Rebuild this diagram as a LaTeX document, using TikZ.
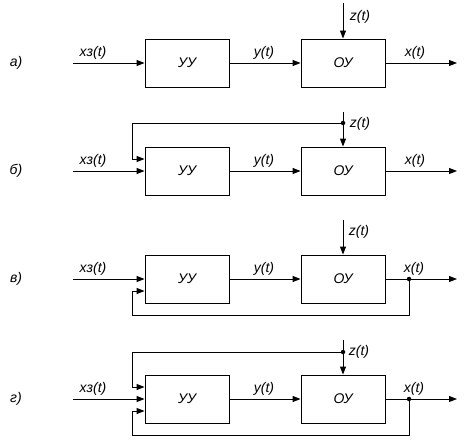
\documentclass[tikz,border=0pt]{standalone}
\usepackage{fontspec}
\setmainfont{Liberation Sans}
\usetikzlibrary{arrows.meta}
\begin{document}
\begin{tikzpicture}[x=1pt,y=-1pt, line width=0.9pt,
 blk/.style={draw, minimum width=84pt, minimum height=48pt, inner sep=0pt, font=\itshape\fontsize{14}{16}\selectfont},
 lbl/.style={inner sep=0pt, font=\itshape\fontsize{14}{16}\selectfont},
 arr/.style={-{Triangle[length=8pt,width=6pt]}},
 jdot/.style={fill, circle, inner sep=0pt, minimum size=4.5pt}]
\useasboundingbox (0,0) rectangle (468,444);
% ---- panel a
\node[blk] (uuA) at (187,63) {УУ};
\node[blk] (ouA) at (343,63) {ОУ};
\coordinate (inA) at (73,63);
\coordinate (outA) at (457,63);
\coordinate (zA) at (343,3);
\draw[arr] (inA) -- (uuA);
\draw[arr] (uuA) -- (ouA);
\draw[arr] (ouA) -- (outA);
\draw[arr] (zA) -- (ouA);
\node[lbl] (pA) at (16,63) {а)};
\node[lbl] (xzA) at (93,53) {xз(t)};
\node[lbl] (yA) at (264,53) {y(t)};
\node[lbl] (xA) at (415,53) {x(t)};
\node[lbl] (zlA) at (360,17) {z(t)};
% ---- panel b
\node[blk] (uuB) at (187,171) {УУ};
\node[blk] (ouB) at (343,171) {ОУ};
\coordinate (inB) at (73,171);
\coordinate (outB) at (457,171);
\coordinate (zB) at (343,112);
\coordinate (jB) at (343,123);
\draw[arr] (inB) -- (uuB);
\draw[arr] (uuB) -- (ouB);
\draw[arr] (ouB) -- (outB);
\draw[arr] (zB) -- (ouB);
\draw[arr] (jB) -| ([xshift=-12pt,yshift=12pt]uuB.west) -- ([yshift=12pt]uuB.west);
\node[jdot] (jdB) at (jB) {};
\node[lbl] (pB) at (16,171) {б)};
\node[lbl] (xzB) at (93,161) {xз(t)};
\node[lbl] (yB) at (264,161) {y(t)};
\node[lbl] (xB) at (415,161) {x(t)};
\node[lbl] (zlB) at (360,124) {z(t)};
% ---- panel c
\node[blk] (uuC) at (187,279) {УУ};
\node[blk] (ouC) at (343,279) {ОУ};
\coordinate (inC) at (73,279);
\coordinate (outC) at (457,279);
\coordinate (zC) at (343,220);
\coordinate (jC) at (409,279);
\draw[arr] (inC) -- (uuC);
\draw[arr] (uuC) -- (ouC);
\draw[arr] (ouC) -- (outC);
\draw[arr] (zC) -- (ouC);
\draw[arr] (jC) |- ([xshift=-12pt,yshift=-36pt]uuC.west) |- ([yshift=-12pt]uuC.west);
\node[jdot] (jdC) at (jC) {};
\node[lbl] (pC) at (16,279) {в)};
\node[lbl] (xzC) at (93,269) {xз(t)};
\node[lbl] (yC) at (264,269) {y(t)};
\node[lbl] (xC) at (414,269) {x(t)};
\node[lbl] (zlC) at (359,232) {z(t)};
% ---- panel d
\node[blk] (uuD) at (187,399) {УУ};
\node[blk] (ouD) at (343,399) {ОУ};
\coordinate (inD) at (73,399);
\coordinate (outD) at (457,399);
\coordinate (zD) at (343,340);
\coordinate (jzD) at (343,352);
\coordinate (jxD) at (409,399);
\draw[arr] (inD) -- (uuD);
\draw[arr] (uuD) -- (ouD);
\draw[arr] (ouD) -- (outD);
\draw[arr] (zD) -- (ouD);
\draw[arr] (jzD) -| ([xshift=-12pt,yshift=12pt]uuD.west) -- ([yshift=12pt]uuD.west);
\draw[arr] (jxD) |- ([xshift=-12pt,yshift=-36pt]uuD.west) |- ([yshift=-12pt]uuD.west);
\node[jdot] (jdzD) at (jzD) {};
\node[jdot] (jdxD) at (jxD) {};
\node[lbl] (pD) at (16,399) {г)};
\node[lbl] (xzD) at (93,389) {xз(t)};
\node[lbl] (yD) at (264,389) {y(t)};
\node[lbl] (xD) at (414,389) {x(t)};
\node[lbl] (zlD) at (359,352) {z(t)};
\end{tikzpicture}
\end{document}
